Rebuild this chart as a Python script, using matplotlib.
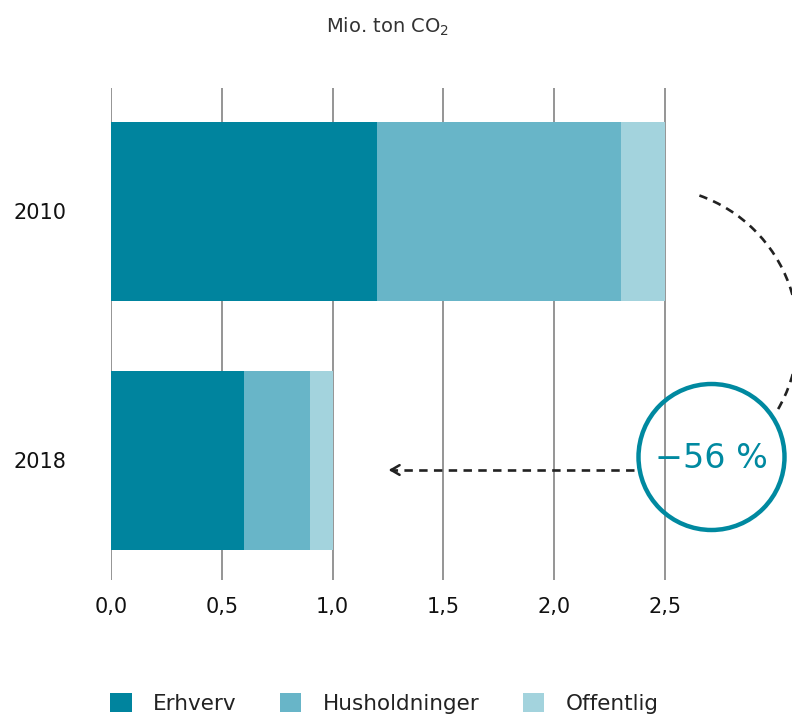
import numpy as np
import matplotlib.pyplot as plt
from matplotlib.patches import Patch, Circle, Arc

years = ["2010", "2018"]
series = ["Erhverv", "Husholdninger", "Offentlig"]
erhverv = [1.2, 0.6]
husholdninger = [1.1, 0.3]
offentlig = [0.2, 0.1]
xticks = [0.0, 0.5, 1.0, 1.5, 2.0, 2.5]
change_label = "\u221256 %"

colors = ["#00849e", "#68b5c8", "#a3d3dd"]
teal = "#0089a0"

W, H = 792, 715
fig = plt.figure(figsize=(W / 100, H / 100), dpi=100)
plt.rcParams["font.family"] = ["DejaVu Sans"]

# plot area: x 0..2.5 spans px 111..665
px_per_unit = (665 - 111) / 2.5
ax = fig.add_axes([111 / W, (H - 580) / H, (W - 111) / W, (580 - 88) / H])
ax.set_xlim(0, (W - 111) / px_per_unit)
ax.set_ylim(1.48, -0.496)

y = np.arange(len(years))
left = np.zeros(len(years))
for vals, name, c in zip([erhverv, husholdninger, offentlig], series, colors):
    ax.barh(y, vals, left=left, height=0.719, color=c, label=name, zorder=3)
    left += np.array(vals)

for t in xticks:
    ax.axvline(t, color="#8c8c8c", lw=1.3, zorder=1)

ax.set_xticks(xticks)
ax.set_xticklabels([f"{t:.1f}".replace(".", ",") for t in xticks], fontsize=15, color="#111111")
ax.set_yticks(y)
ax.set_yticklabels(years, fontsize=15, color="#111111")
ax.tick_params(axis="x", length=0, pad=12)
ax.tick_params(axis="y", length=0, pad=32)
for s in ax.spines.values():
    s.set_visible(False)

fig.text(388 / W, 1 - 27 / H, "Mio. ton CO$_2$", ha="center", va="center", fontsize=14, color="#333333")

# decoration overlay in pixel coordinates
ov = fig.add_axes([0, 0, 1, 1], zorder=5)
ov.set_xlim(0, W)
ov.set_ylim(H, 0)
ov.axis("off")

cx, cy, r = 711.5, 457, 73
ov.add_patch(Circle((cx, cy), r, fill=False, ec=teal, lw=3.2))
ov.text(cx, cy + 1, change_label, ha="center", va="center", fontsize=24, color=teal)

arc_c = (650, 335)
arc_r = 148
ov.add_patch(Arc(arc_c, 2 * arc_r, 2 * arc_r, theta1=-70.5, theta2=30.6,
                 ec="#222222", lw=1.9, ls=(0, (3.2, 2.4))))

ov.plot([634, 392], [470, 470], color="#222222", lw=1.9, ls=(0, (3.2, 2.4)))
ov.annotate("", xy=(386, 470), xytext=(396, 470),
            arrowprops=dict(arrowstyle="->,head_length=0.6,head_width=0.35", color="#222222", lw=1.8))

handles = [Patch(facecolor=c, label=n) for c, n in zip(colors, series)]
fig.legend(handles=handles, loc="lower left", bbox_to_anchor=(109 / W, 0.0), ncol=3,
           frameon=False, fontsize=15.5, handlelength=1.0, handleheight=1.0,
           handletextpad=1.0, columnspacing=2.0, borderpad=0.05, borderaxespad=0,
           labelcolor="#222222")

fig.savefig("out.png", dpi=100)
